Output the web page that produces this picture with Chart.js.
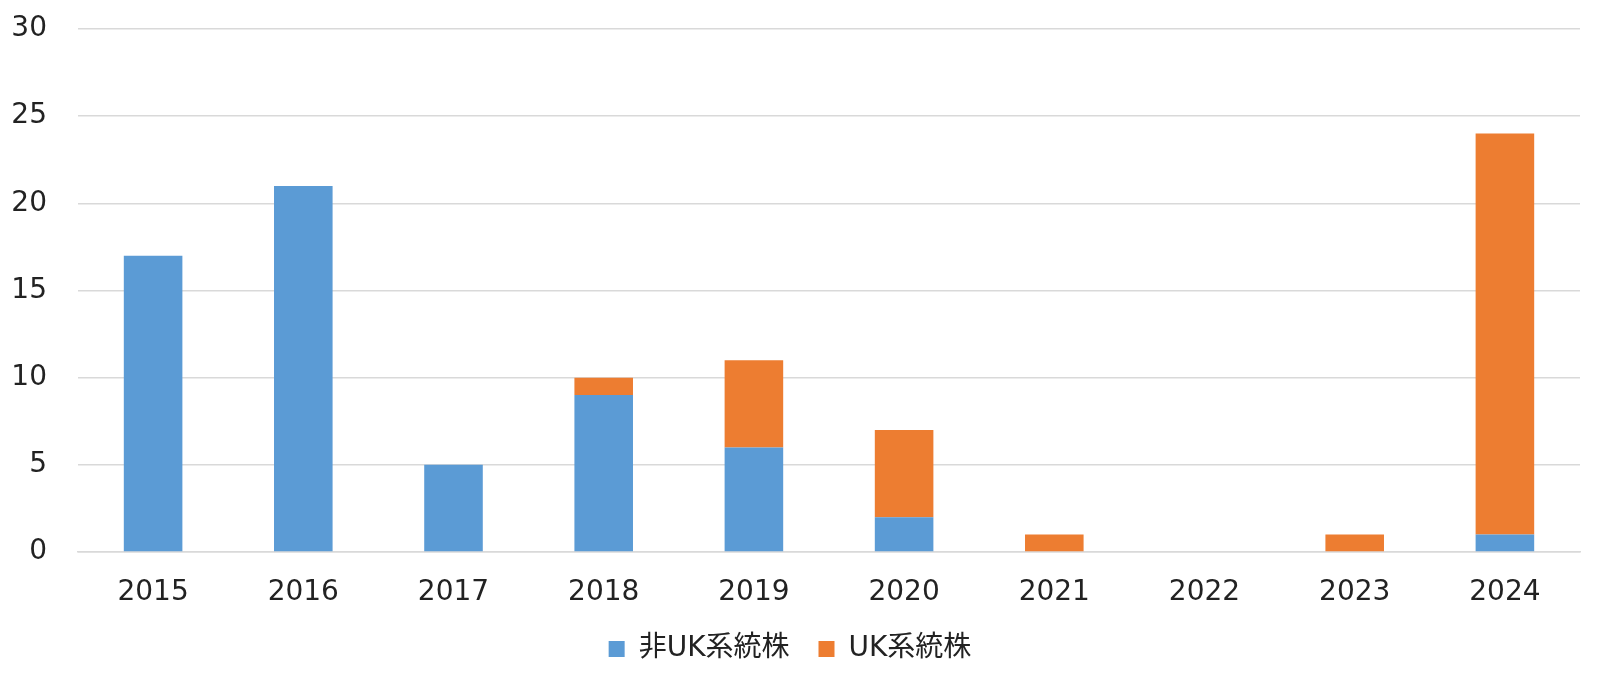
<!DOCTYPE html>
<html>
<head>
<meta charset="utf-8">
<script src="https://cdn.jsdelivr.net/npm/chart.js@4"></script>
<style>
  html, body { margin: 0; padding: 0; background: #fff; }
  #wrap { width: 1600px; height: 680px; }
</style>
</head>
<body>
<div id="wrap"><canvas id="chart" width="1600" height="680"></canvas></div>
<script>
const years = ['2015', '2016', '2017', '2018', '2019', '2020', '2021', '2022', '2023', '2024'];
const nonUK = [17, 21, 5, 9, 6, 2, 0, 0, 0, 1];
const uk = [0, 0, 0, 1, 5, 5, 1, 0, 1, 23];
const yTicks = [0, 5, 10, 15, 20, 25, 30];

const fontFamily = '"DejaVu Sans", "Noto Sans CJK JP", sans-serif';
const gridColor = '#d9d9d9';

const ctx = document.getElementById('chart').getContext('2d');
new Chart(ctx, {
  type: 'bar',
  data: {
    labels: years,
    datasets: [
      { label: '非UK系統株', data: nonUK, backgroundColor: '#5b9bd5' },
      { label: 'UK系統株', data: uk, backgroundColor: '#ed7d31' }
    ]
  },
  options: {
    responsive: false,
    animation: false,
    layout: { padding: { left: 0, right: 20, top: 0, bottom: 7 } },
    datasets: { bar: { categoryPercentage: 1, barPercentage: 0.39 } },
    plugins: {
      tooltip: { enabled: false },
      legend: {
        position: 'bottom',
        labels: {
          font: { family: fontFamily, size: 28 },
          color: '#222',
          boxWidth: 16,
          boxHeight: 16,
          padding: 29
        }
      }
    },
    scales: {
      x: {
        stacked: true,
        // just tall enough for the labels, so the legend sits close under them
        afterFit: axis => { axis.height = 54; },
        grid: { display: false, drawTicks: false },
        border: { display: true, color: gridColor, width: 1.5 },
        ticks: {
          font: { family: fontFamily, size: 28 },
          color: '#222',
          padding: 24
        }
      },
      y: {
        stacked: true,
        min: 0,
        max: 30,
        afterFit: axis => {
          axis.width = 78;
          axis.paddingTop = 29;
          axis.paddingBottom = 0;
        },
        afterBuildTicks: axis => { axis.ticks = yTicks.map(v => ({ value: v })); },
        grid: { color: gridColor, lineWidth: 1.5, drawTicks: false },
        border: { display: false },
        ticks: {
          font: { family: fontFamily, size: 28 },
          color: '#222',
          padding: 31
        }
      }
    }
  }
});
</script>
</body>
</html>
